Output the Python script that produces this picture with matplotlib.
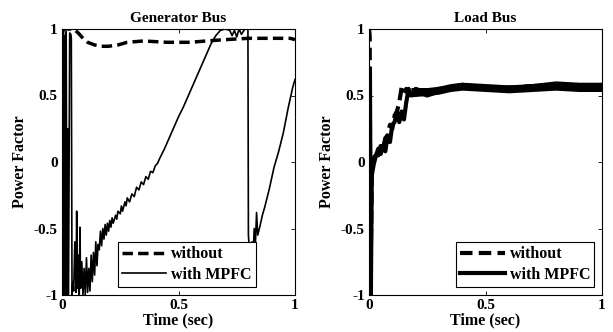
import matplotlib
matplotlib.use("Agg")
import matplotlib.pyplot as plt

plt.rcParams['font.family'] = ['Liberation Serif', 'DejaVu Serif']
plt.rcParams['font.weight'] = 'bold'

# ---- Generator bus ----
gen_without_t = [0, 0.01, 0.03, 0.05, 0.07, 0.09, 0.11, 0.14, 0.17, 0.2, 0.24, 0.28, 0.35,
                 0.45, 0.55, 0.62, 0.7, 0.8, 0.9, 0.98, 1.0]
gen_without_pf = [0.98, 1.0, 1.0, 1.0, 0.97, 0.93, 0.9, 0.88, 0.87, 0.87, 0.88, 0.9, 0.91,
                  0.9, 0.9, 0.91, 0.92, 0.93, 0.93, 0.93, 0.92]

gen_mpfc_t = [0, 0.003, 0.006, 0.009, 0.012, 0.015, 0.018, 0.021, 0.024, 0.028, 0.033,
              0.038, 0.04, 0.043, 0.047, 0.05, 0.055, 0.06, 0.063, 0.066, 0.07, 0.074,
              0.077, 0.08, 0.085, 0.09, 0.095, 0.1, 0.105, 0.11, 0.115, 0.12, 0.125,
              0.13, 0.135, 0.14, 0.145, 0.15, 0.155, 0.16, 0.165, 0.17, 0.175, 0.18,
              0.185, 0.19, 0.195, 0.2, 0.205, 0.21, 0.215, 0.22, 0.23, 0.235, 0.24,
              0.25, 0.255, 0.26, 0.27, 0.275, 0.28, 0.29, 0.3, 0.31, 0.32, 0.33, 0.34,
              0.35, 0.36, 0.37, 0.38, 0.39, 0.4, 0.41, 0.42, 0.44,
              0.46, 0.48, 0.5, 0.52, 0.54, 0.56, 0.58, 0.6, 0.62, 0.64, 0.66, 0.68,
              0.7, 0.72, 0.73, 0.74, 0.75, 0.76, 0.77, 0.785, 0.798, 0.8, 0.805, 0.81,
              0.815, 0.82, 0.825, 0.83, 0.835, 0.84, 0.85, 0.86, 0.87, 0.89, 0.91,
              0.93, 0.95, 0.97, 0.99, 1.0]
gen_mpfc_pf = [1.0, -1.0, 1.0, -1.0, 0.95, -1.0, 0.98, -1.0, 0.25, -1.0, 0.97,
               0.96, 0.93, -1.0, -0.9, -0.97, -0.6, -0.98, -0.37, -0.95, -0.7, -1.0,
               -0.49, -0.95, -0.75, -1.0, -0.8, -1.0, -0.72, -0.98, -0.8, -0.97, -0.7,
               -0.9, -0.68, -0.85, -0.6, -0.78, -0.62, -0.66, -0.52, -0.63, -0.5, -0.58,
               -0.47, -0.55, -0.46, -0.52, -0.44, -0.49, -0.42, -0.46, -0.4, -0.43, -0.37,
               -0.39, -0.33, -0.37, -0.3, -0.33, -0.27, -0.3, -0.24, -0.26, -0.19, -0.21,
               -0.15, -0.17, -0.11, -0.13, -0.07, -0.08, -0.03, -0.01, 0.03, 0.1,
               0.18, 0.26, 0.34, 0.41, 0.49, 0.57, 0.65, 0.73, 0.81, 0.89, 0.95, 0.99,
               1.0, 0.99, 0.95, 0.99, 0.94, 1.0, 0.96, 1.0, 1.0, -0.55, -0.68, -0.72,
               -0.6, -0.7, -0.5, -0.62, -0.38, -0.55, -0.48, -0.4, -0.34, -0.2, -0.04,
               0.08, 0.22, 0.4, 0.56, 0.62]

# ---- Load bus ----
load_without_t = [0, 0.003, 0.006, 0.012, 0.02, 0.03, 0.04, 0.05, 0.06, 0.07, 0.08, 0.09,
                  0.1, 0.11, 0.12, 0.13, 0.14, 0.15, 0.16, 0.18, 0.2, 0.25, 0.3, 0.35,
                  0.4, 0.5, 0.6, 0.7, 0.8, 0.9, 1.0]
load_without_pf = [1.0, 0.95, -1.0, -0.08, 0.02, 0.08, 0.05, 0.12, 0.1, 0.18, 0.2, 0.28,
                   0.25, 0.35, 0.38, 0.45, 0.56, 0.52, 0.55, 0.5, 0.55, 0.52, 0.55, 0.56,
                   0.58, 0.56, 0.56, 0.57, 0.58, 0.57, 0.57]

load_mpfc_t = [0, 0.004, 0.008, 0.012, 0.02, 0.03, 0.04, 0.05, 0.06, 0.07, 0.08, 0.09,
               0.1, 0.11, 0.12, 0.13, 0.14, 0.15, 0.16, 0.17, 0.18, 0.2, 0.25, 0.3, 0.35,
               0.4, 0.5, 0.6, 0.7, 0.8, 0.9, 1.0]
load_mpfc_pf = [0.7, 0.7, -1.0, -0.1, -0.02, 0.05, 0.1, 0.06, 0.12, 0.08, 0.2, 0.15,
                0.28, 0.3, 0.38, 0.3, 0.38, 0.32, 0.45, 0.55, 0.5, 0.53, 0.5, 0.53, 0.56,
                0.58, 0.56, 0.55, 0.57, 0.58, 0.57, 0.57]

# ripple envelope of the steady-state load-bus power factor
band_t = [0.18, 0.25, 0.3, 0.35, 0.4, 0.5, 0.6, 0.7, 0.8, 0.9, 1.0]
band_lo = [0.49, 0.5, 0.51, 0.53, 0.54, 0.53, 0.52, 0.53, 0.54, 0.53, 0.53]
band_hi = [0.56, 0.56, 0.57, 0.59, 0.6, 0.59, 0.58, 0.59, 0.61, 0.6, 0.6]

fig = plt.figure(figsize=(6.13, 3.32), dpi=100)
ax1 = fig.add_axes([62 / 613, 37 / 332, 233 / 613, 266 / 332])
ax2 = fig.add_axes([369 / 613, 37 / 332, 233 / 613, 266 / 332])

ax1.plot(gen_without_t, gen_without_pf, 'k--', lw=2.5, dashes=(3, 1.5), label='without')
ax1.plot(gen_mpfc_t, gen_mpfc_pf, 'k-', lw=1.2, label='with MPFC')
ax1.set_title('Generator Bus', fontsize=11, fontweight='bold', pad=5)

ax2.fill_between(band_t, band_lo, band_hi, color='k', lw=0)
ax2.plot(load_without_t, load_without_pf, 'k--', lw=3, dashes=(3, 1.5), label='without')
ax2.plot(load_mpfc_t, load_mpfc_pf, 'k-', lw=3, label='with MPFC')
ax2.set_title('Load Bus', fontsize=11, fontweight='bold', pad=5)

for ax in (ax1, ax2):
    ax.set_xlim(0, 1)
    ax.set_ylim(-1, 1)
    ax.set_xticks([0, 0.5, 1])
    ax.set_xticklabels(['0', '0.5', '1'])
    ax.set_yticks([-1, -0.5, 0, 0.5, 1])
    ax.set_yticklabels(['-1', '-0.5', '0', '0.5', '1'])
    ax.tick_params(direction='in', top=True, right=True, length=3, width=0.6,
                   labelsize=11, pad=3)
    ax.set_xlabel('Time (sec)', fontsize=11.5, fontweight='bold', labelpad=0)
    ax.set_ylabel('Power Factor', fontsize=11.5, fontweight='bold', labelpad=4)
    for s in ax.spines.values():
        s.set_linewidth(0.8)

leg_opts = dict(fontsize=11.5, handlelength=2.8, handletextpad=0.3, borderpad=0.25,
                labelspacing=0.3, fancybox=False, edgecolor='k', framealpha=1)
leg1 = ax1.legend(loc='lower left', bbox_to_anchor=(0.205, 0.0), **leg_opts)
leg2 = ax2.legend(loc='lower right', bbox_to_anchor=(1.0, 0.0), **leg_opts)
for leg in (leg1, leg2):
    leg.get_frame().set_linewidth(0.8)

fig.savefig('out.png', dpi=100)
